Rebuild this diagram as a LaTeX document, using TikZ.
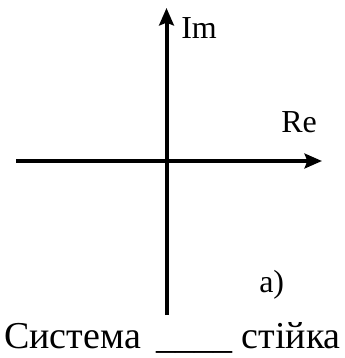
\documentclass[tikz,border=0pt]{standalone}
\usepackage{fontspec}
\setmainfont{Liberation Serif}
\usetikzlibrary{arrows.meta}

\begin{document}
\begin{tikzpicture}
[
	axis/.style={line width=3pt,-{Stealth[length=13pt,width=11pt,inset=2pt]}},
	lbl/.style={inner sep=0pt,anchor=base west,font=\fontsize{24}{26}\selectfont},
	x=0.75pt,
	y=-0.75pt
]

	\useasboundingbox (0,0) rectangle (344,358);

	% axes
	\coordinate (xs) at (16,161);
	\coordinate (xe) at (322,161);
	\coordinate (ys) at (166.5,315);
	\coordinate (ye) at (166.5,8);
	\draw[axis] (xs) -- (xe);
	\draw[axis] (ys) -- (ye);

	% labels
	\node[lbl] (im) at (181,38) {Im};
	\node[lbl] (re) at (281,132) {Re};
	\node[lbl] (a) at (259,292) {a)};
	\node[inner sep=0pt,anchor=base west,font=\fontsize{28.5}{32}\selectfont] (cap) at (4,348)
		{Система\hspace{0.4em}\_\_\_\_\hspace{0.25em}стійка};

\end{tikzpicture}
\end{document}
